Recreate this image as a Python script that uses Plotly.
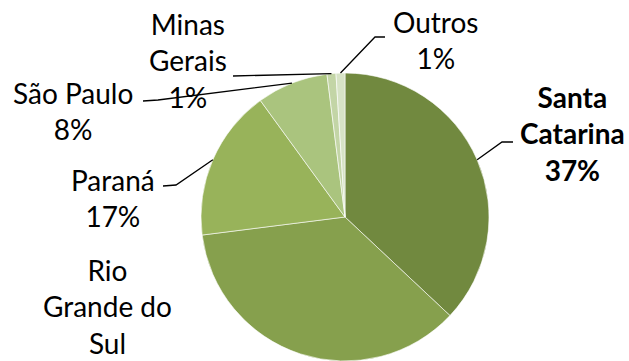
import math
import plotly.graph_objects as go

# Production share by state (%)
states = ["Santa Catarina", "Rio Grande do Sul", "Paraná", "São Paulo", "Minas Gerais", "Outros"]
shares = [37, 36, 17, 8, 1, 1]
label_text = [
    "<b>Santa<br>Catarina<br>37%</b>",
    "Rio<br>Grande do<br>Sul",
    "Paraná<br>17%",
    "São Paulo<br>8%",
    "Minas<br>Gerais<br>1%",
    "Outros<br>1%",
]
colors = ["#71893F", "#86A04D", "#98B35A", "#AAC47E", "#C3D5A6", "#D7E3C6"]

W, H = 629, 361
CX, CY, R = 345, 217, 144   # pie centre and radius in pixels

# label block centres (px) and leader-line elbows (px, None = no line)
label_pos = [(572, 133), (107, 306), (113, 198), (73, 111), (188, 61), (435, 40)]
elbows = [
    [(502, 142), (513, 142)],
    None,
    [(176, 185), (163, 186)],
    [(158, 100), (143, 101)],
    [(233, 76)],
    [(375, 37), (385, 37)],
]


def px(x, y):
    return x / W, 1 - y / H


fig = go.Figure(go.Pie(
    labels=states,
    values=shares,
    sort=False,
    direction="clockwise",
    rotation=0,
    marker=dict(colors=colors, line=dict(color="white", width=0.6)),
    textinfo="none",
    hoverinfo="label+percent",
    domain=dict(x=[(CX - R) / W, (CX + R) / W], y=[0, 2 * R / H]),
    showlegend=False,
))

total = sum(shares)
cum = 0
shapes = []
annotations = []
for i, v in enumerate(shares):
    mid = (cum + v / 2) / total * 2 * math.pi
    cum += v
    sx = CX + R * math.sin(mid)
    sy = CY - R * math.cos(mid)
    if elbows[i]:
        pts = [(sx, sy)] + elbows[i]
        path = "M " + " L ".join(f"{px(x, y)[0]:.5f},{px(x, y)[1]:.5f}" for x, y in pts)
        shapes.append(dict(type="path", path=path, xref="paper", yref="paper",
                           line=dict(color="black", width=1.3)))
    lx, ly = px(*label_pos[i])
    annotations.append(dict(
        text=label_text[i], x=lx, y=ly, xref="paper", yref="paper",
        xanchor="center", yanchor="middle", showarrow=False, align="center",
        font=dict(family="Lato", size=28, color="black"),
    ))

fig.update_layout(
    width=W, height=H,
    margin=dict(l=0, r=0, t=0, b=0),
    paper_bgcolor="white",
    plot_bgcolor="white",
    shapes=shapes,
    annotations=annotations,
)

fig.write_html("out.html")
